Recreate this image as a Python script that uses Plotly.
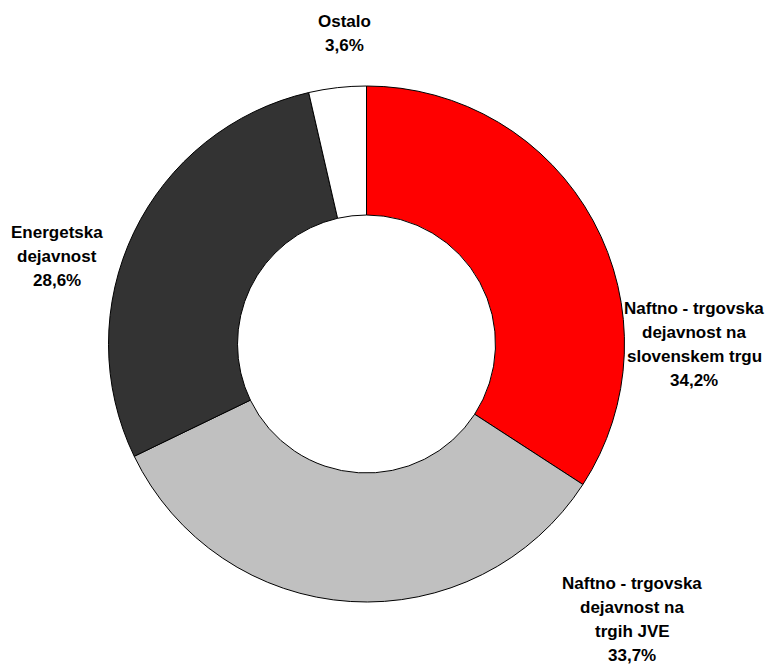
import plotly.graph_objects as go

# Segment names (one entry per text line) and shares in percent
labels = [
    ["Naftno - trgovska", "dejavnost na", "slovenskem trgu"],
    ["Naftno - trgovska", "dejavnost na", "trgih JVE"],
    ["Energetska", "dejavnost"],
    ["Ostalo"],
]
values = [34.2, 33.7, 28.6, 3.6]
colors = ["#FF0000", "#C0C0C0", "#333333", "#FFFFFF"]

W, H = 771, 664

# Label anchor: centre x and y of the first line (pixels from top-left)
label_pos = [(694, 308), (632, 583), (57, 233), (344, 22)]
line_step = 24.0

fig = go.Figure()
fig.add_trace(go.Pie(
    labels=[" ".join(l) for l in labels],
    values=values,
    marker=dict(colors=colors, line=dict(color="#000000", width=1)),
    hole=0.5,
    sort=False,
    direction="clockwise",
    rotation=0,
    textinfo="none",
    hoverinfo="label+percent",
    showlegend=False,
    domain=dict(x=[108.5 / W, 624.5 / W], y=[(320 - 258) / H, (320 + 258) / H]),
))

annotations = []
for lines, v, (cx, cy) in zip(labels, values, label_pos):
    text_lines = list(lines) + [f"{v:.1f}".replace(".", ",") + "%"]
    for i, t in enumerate(text_lines):
        y = cy + i * line_step
        annotations.append(dict(
            x=cx / W, y=1 - y / H, xref="paper", yref="paper",
            text=t, showarrow=False, xanchor="center", yanchor="middle",
            font=dict(family="Liberation Sans, Arial, sans-serif", size=17,
                      color="#000000", weight="bold"),
        ))

fig.update_layout(
    width=W, height=H,
    margin=dict(l=0, r=0, t=0, b=0),
    paper_bgcolor="#FFFFFF",
    plot_bgcolor="#FFFFFF",
    annotations=annotations,
)

fig.write_html("out.html")
